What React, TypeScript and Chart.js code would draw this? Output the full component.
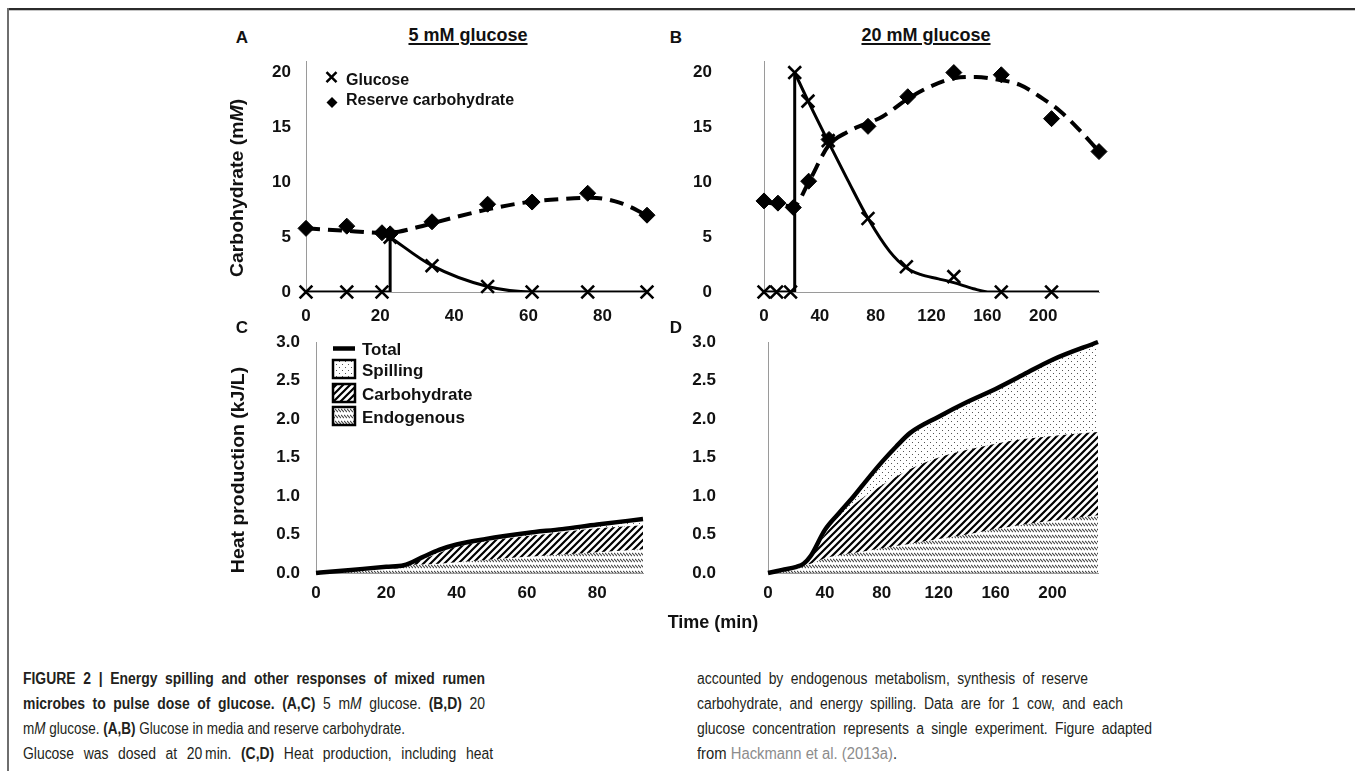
import React, { useEffect, useLayoutEffect, useRef } from 'react';
import { Chart, registerables } from 'chart.js';

Chart.register(...registerables);

const SANS = "'Liberation Sans', Arial, Helvetica, sans-serif";
const NARROW = "'Liberation Sans Narrow', 'Arial Narrow', 'Liberation Sans', Arial, sans-serif";

// ---------- Panel A (5 mM glucose) ----------
const timeA = [0, 11, 20.5, 22.7, 34, 49, 61, 76, 92];
const glucoseA = [0, 0, 0, 5, 2.4, 0.5, 0, 0, 0];
const reserveA = [5.8, 6.0, 5.4, 5.3, 6.4, 8.0, 8.2, 9.0, 7.0];
const glucStepTimeA = [0, 22.7, 22.7];
const glucStepA = [0, 0, 5];
const glucCurveTimeA = [22.7, 34, 49, 61, 92];
const glucCurveA = [5, 2.4, 0.5, 0, 0];
const reserveFitTimeA = [0, 10, 20, 25, 30, 40, 50, 60, 70, 77, 85, 92];
const reserveFitA = [5.8, 5.6, 5.4, 5.5, 5.9, 6.8, 7.6, 8.2, 8.5, 8.6, 8.1, 7.0];

// ---------- Panel B (20 mM glucose) ----------
const glucTimeB = [0, 9, 19, 22, 31.5, 46, 74.5, 102, 136, 170, 206];
const glucoseB = [0, 0, 0, 20, 17.4, 13.8, 6.7, 2.3, 1.4, 0, 0];
const reserveTimeB = [0, 10, 21, 32, 46.6, 74.5, 103, 136, 170, 206, 240];
const reserveB = [8.3, 8.1, 7.7, 10.1, 13.9, 15.1, 17.8, 20.0, 19.8, 15.8, 12.8];
const glucStepTimeB = [0, 22, 22];
const glucStepB = [0, 0, 20];
const glucCurveTimeB = [22, 32, 46, 60, 75, 90, 102, 112, 125, 136, 150, 162, 240];
const glucCurveB = [20, 17.3, 13.7, 10.2, 6.6, 3.7, 2.2, 1.6, 1.2, 0.85, 0.3, 0, 0];
const reserveFitTimeB = [0, 10, 21, 32, 46, 60, 85, 103, 117, 137, 152, 165, 183, 200, 212, 225, 240];
const reserveFitB = [8.2, 8.0, 7.8, 10.0, 13.3, 14.6, 16.0, 17.6, 18.6, 19.5, 19.6, 19.4, 18.9, 17.6, 16.5, 14.9, 12.8];

// ---------- Panel C (heat, 5 mM) ----------
const timeC = [0, 10, 20, 25, 30, 35, 40, 48, 60, 70, 80, 93];
const endoC = [0, 0.04, 0.08, 0.10, 0.11, 0.12, 0.14, 0.17, 0.21, 0.24, 0.27, 0.31];
const carbC = [0, 0.04, 0.08, 0.10, 0.17, 0.26, 0.34, 0.41, 0.48, 0.53, 0.58, 0.62];
const totalC = [0, 0.04, 0.08, 0.10, 0.20, 0.30, 0.37, 0.44, 0.52, 0.57, 0.63, 0.70];

// ---------- Panel D (heat, 20 mM) ----------
const timeD = [0, 10, 20, 25, 30, 40, 50, 60, 70, 80, 90, 100, 120, 140, 160, 180, 200, 232];
const endoD = [0, 0.04, 0.08, 0.10, 0.12, 0.19, 0.23, 0.26, 0.29, 0.32, 0.35, 0.38, 0.44, 0.50, 0.57, 0.63, 0.68, 0.75];
const carbD = [0, 0.04, 0.08, 0.12, 0.21, 0.50, 0.70, 0.88, 1.02, 1.14, 1.25, 1.35, 1.50, 1.60, 1.68, 1.74, 1.78, 1.83];
const totalD = [0, 0.04, 0.08, 0.12, 0.22, 0.56, 0.78, 0.99, 1.22, 1.44, 1.64, 1.82, 2.03, 2.22, 2.39, 2.58, 2.77, 3.0];

// ---------- ticks ----------
const yTicksCarb = [0, 5, 10, 15, 20];
const yTicksHeat = [0, 0.5, 1.0, 1.5, 2.0, 2.5, 3.0];
const xTicksLow = [0, 20, 40, 60, 80];
const xTicksHigh = [0, 40, 80, 120, 160, 200];

const pts = (xs: number[], ys: number[]) => xs.map((x, i) => ({ x, y: ys[i] }));

function makePattern(kind: string): any {
  const c = document.createElement('canvas');
  const ctx = c.getContext('2d')!;
  if (kind === 'dots') {
    c.width = 6; c.height = 6;
    ctx.fillStyle = '#555';
    ctx.fillRect(1, 1, 1, 1);
    ctx.fillRect(4, 4, 1, 1);
  } else if (kind === 'hatch') {
    c.width = 7; c.height = 7;
    ctx.strokeStyle = '#000';
    ctx.lineWidth = 2.2;
    ctx.beginPath();
    ctx.moveTo(-1, 8); ctx.lineTo(8, -1);
    ctx.moveTo(-2, 2); ctx.lineTo(2, -2);
    ctx.moveTo(5, 9); ctx.lineTo(9, 5);
    ctx.stroke();
  } else {
    c.width = 3; c.height = 6;
    ctx.strokeStyle = '#4a4a4a';
    ctx.lineWidth = 1.1;
    ctx.beginPath();
    ctx.moveTo(0, 1); ctx.lineTo(3, 4);
    ctx.stroke();
  }
  return ctx.createPattern(c, 'repeat');
}

function scales(o: any) {
  const tickFont = { family: SANS, size: 17, weight: 'bold' as const };
  return {
    x: {
      type: 'linear', min: 0, max: o.xMax,
      grid: { display: true, drawOnChartArea: false, drawTicks: false },
      border: { display: true, color: '#9a9a9a', width: 1 },
      afterBuildTicks: (s: any) => { s.ticks = o.xTicks.map((v: number) => ({ value: v })); },
      afterFit: (s: any) => { s.height = 40; s.paddingLeft = 0; s.paddingRight = 0; s.paddingTop = 0; s.paddingBottom = 0; },
      ticks: { font: tickFont, color: '#111', padding: o.xPad, maxRotation: 0, autoSkip: false },
    },
    y: {
      type: 'linear', min: 0, max: o.yMax,
      grid: { display: true, drawOnChartArea: false, drawTicks: false },
      border: { display: true, color: '#9a9a9a', width: 1 },
      afterBuildTicks: (s: any) => { s.ticks = o.yTicks.map((v: number) => ({ value: v })); },
      afterFit: (s: any) => { s.width = o.yWidth; s.paddingTop = 0; s.paddingBottom = 0; s.paddingLeft = 0; s.paddingRight = 0; },
      ticks: { font: tickFont, color: '#111', padding: o.yPad, autoSkip: false, callback: o.fmt },
    },
  };
}

function carbConfig(o: any) {
  return {
    type: 'line',
    data: {
      datasets: [
        { data: pts(o.fitT, o.fit), borderColor: '#000', borderWidth: 4, borderDash: [14, 8], pointRadius: 0, cubicInterpolationMode: 'monotone', fill: false, order: 5 },
        { data: pts(o.stepT, o.step), borderColor: '#000', borderWidth: 3, pointRadius: 0, tension: 0, fill: false, order: 4, borderJoinStyle: 'miter' },
        { data: pts(o.curveT, o.curve), borderColor: '#000', borderWidth: 3, pointRadius: 0, cubicInterpolationMode: 'monotone', fill: false, order: 3 },
        { data: pts(o.resT, o.res), showLine: false, pointStyle: 'rectRot', pointRadius: 8, backgroundColor: '#000', borderColor: '#000', borderWidth: 1, clip: false, order: 2 },
        { data: pts(o.glT, o.gl), showLine: false, pointStyle: 'crossRot', pointRadius: 9, backgroundColor: '#000', borderColor: '#000', borderWidth: 2.6, clip: false, order: 1 },
      ],
    },
    options: {
      responsive: false, animation: false, events: [],
      layout: { padding: { left: 0, right: o.padR, top: 10, bottom: 8 } },
      plugins: { legend: { display: false }, tooltip: { enabled: false } },
      scales: scales({ xMax: o.xMax, xTicks: o.xTicks, yMax: 21, yTicks: yTicksCarb, yWidth: o.yWidth, yPad: o.yPad, xPad: 14, fmt: (v: any) => String(v) }),
    },
    plugins: o.plugins || [],
  };
}

function heatConfig(o: any) {
  return {
    type: 'line',
    data: {
      datasets: [
        { data: pts(o.t, o.endo), borderWidth: 0, borderColor: 'rgba(0,0,0,0)', backgroundColor: o.pat.endo, pointRadius: 0, cubicInterpolationMode: 'monotone', fill: 'origin', order: 3 },
        { data: pts(o.t, o.carb), borderWidth: 0, borderColor: 'rgba(0,0,0,0)', backgroundColor: o.pat.hatch, pointRadius: 0, cubicInterpolationMode: 'monotone', fill: '-1', order: 2 },
        { data: pts(o.t, o.total), borderWidth: 4.5, borderColor: '#000', backgroundColor: o.pat.dots, pointRadius: 0, cubicInterpolationMode: 'monotone', fill: '-1', order: 1, clip: 4 },
      ],
    },
    options: {
      responsive: false, animation: false, events: [],
      layout: { padding: { left: 0, right: o.padR, top: 12, bottom: 7 } },
      plugins: { legend: { display: false }, tooltip: { enabled: false } },
      scales: scales({ xMax: o.xMax, xTicks: o.xTicks, yMax: 3, yTicks: yTicksHeat, yWidth: o.yWidth, yPad: o.yPad, xPad: 10, fmt: (v: any) => Number(v).toFixed(1) }),
    },
    plugins: o.plugins || [],
  };
}

const legendA = {
  id: 'legendA',
  afterDatasetsDraw(chart: any) {
    const { ctx, chartArea: ca } = chart;
    const L = ca.left, T = ca.top;
    ctx.save();
    ctx.strokeStyle = '#000'; ctx.lineWidth = 2.5;
    const cx = L + 25.5, cy = T + 15.5;
    ctx.beginPath();
    ctx.moveTo(cx - 5, cy - 5); ctx.lineTo(cx + 5, cy + 5);
    ctx.moveTo(cx + 5, cy - 5); ctx.lineTo(cx - 5, cy + 5);
    ctx.stroke();
    const dx = L + 26, dy = T + 41;
    ctx.fillStyle = '#000';
    ctx.beginPath();
    ctx.moveTo(dx, dy - 5.5); ctx.lineTo(dx + 5.5, dy); ctx.lineTo(dx, dy + 5.5); ctx.lineTo(dx - 5.5, dy);
    ctx.closePath(); ctx.fill();
    ctx.fillStyle = '#111';
    ctx.font = `bold 16px ${SANS}`;
    ctx.textBaseline = 'alphabetic';
    ctx.textAlign = 'left';
    ctx.fillText('Glucose', L + 40, T + 18 + 5.8);
    ctx.fillText('Reserve carbohydrate', L + 40, T + 38 + 5.8);
    ctx.restore();
  },
};

function makeLegendC(pat: any) {
  return {
    id: 'legendC',
    afterDatasetsDraw(chart: any) {
      const { ctx, chartArea: ca } = chart;
      const L = ca.left, T = ca.top;
      ctx.save();
      ctx.strokeStyle = '#000'; ctx.lineWidth = 4.5;
      ctx.beginPath(); ctx.moveTo(L + 17, T + 6.5); ctx.lineTo(L + 39, T + 6.5); ctx.stroke();
      const items: [string, any, number][] = [
        ['Spilling', pat.dots, 27],
        ['Carbohydrate', pat.hatch, 51],
        ['Endogenous', pat.endo, 74],
      ];
      ctx.font = `bold 17px ${SANS}`;
      ctx.textBaseline = 'alphabetic';
      ctx.textAlign = 'left';
      ctx.fillStyle = '#111';
      ctx.fillText('Total', L + 46, T + 7 + 6.1);
      for (const [label, p, dy] of items) {
        ctx.fillStyle = '#fff';
        ctx.fillRect(L + 17, T + dy - 9, 22, 18);
        ctx.fillStyle = p;
        ctx.fillRect(L + 17, T + dy - 9, 22, 18);
        ctx.strokeStyle = '#000'; ctx.lineWidth = 2.5;
        ctx.strokeRect(L + 17, T + dy - 9, 22, 18);
        ctx.fillStyle = '#111';
        ctx.fillText(label, L + 46, T + dy + 1 + 6.1);
      }
      ctx.restore();
    },
  };
}

function Label(props: { x: number; y: number; size: number; children: React.ReactNode; rotate?: boolean; sx?: number; underline?: boolean }) {
  const { x, y, size, children, rotate, sx = 1, underline } = props;
  return (
    <div
      style={{
        position: 'absolute', left: x, top: y,
        transform: `translate(-50%, -50%)${rotate ? ' rotate(-90deg)' : ''} scaleX(${sx})`,
        fontFamily: SANS, fontWeight: 'bold', fontSize: size, lineHeight: 1,
        whiteSpace: 'nowrap', color: '#111',
        textDecoration: underline ? 'underline' : 'none',
        textDecorationThickness: underline ? '2px' : undefined,
        textUnderlineOffset: underline ? '2px' : undefined,
      }}
    >
      {children}
    </div>
  );
}

const CONDENSE = 0.87;

function FitLine(props: { x: number; cy: number; w: number; justify: boolean; children: React.ReactNode }) {
  const { x, cy, w, justify, children } = props;
  const ref = useRef<HTMLSpanElement>(null);
  useLayoutEffect(() => {
    const el = ref.current;
    if (!el) return;
    el.style.transform = '';
    el.style.display = 'inline-block';
    el.style.width = '';
    el.style.textAlign = '';
    (el.style as any).textAlignLast = '';
    const nat = el.getBoundingClientRect().width;
    if (nat <= 0) return;
    if (justify && nat * CONDENSE <= w) {
      el.style.display = 'block';
      el.style.width = w / CONDENSE + 'px';
      el.style.textAlign = 'justify';
      (el.style as any).textAlignLast = 'justify';
      el.style.transform = `scaleX(${CONDENSE})`;
    } else {
      el.style.transform = `scaleX(${w / nat})`;
    }
  }, [w, justify]);
  return (
    <div style={{ position: 'absolute', left: x, top: cy - 9, height: 18, lineHeight: '18px', fontFamily: NARROW, fontSize: 16, color: '#231f20', whiteSpace: 'nowrap' }}>
      <span ref={ref} style={{ display: 'inline-block', transformOrigin: '0 0', whiteSpace: 'nowrap' }}>{children}</span>
    </div>
  );
}

export default function App() {
  const refA = useRef<HTMLCanvasElement>(null);
  const refB = useRef<HTMLCanvasElement>(null);
  const refC = useRef<HTMLCanvasElement>(null);
  const refD = useRef<HTMLCanvasElement>(null);

  useEffect(() => {
    const pat = { dots: makePattern('dots'), hatch: makePattern('hatch'), endo: makePattern('endo') };
    const charts: Chart[] = [];
    charts.push(new Chart(refA.current as any, carbConfig({
      fitT: reserveFitTimeA, fit: reserveFitA, stepT: glucStepTimeA, step: glucStepA,
      curveT: glucCurveTimeA, curve: glucCurveA, resT: timeA, res: reserveA, glT: timeA, gl: glucoseA,
      xMax: 92, xTicks: xTicksLow, yWidth: 76, yPad: 15, padR: 23, plugins: [legendA],
    }) as any));
    charts.push(new Chart(refB.current as any, carbConfig({
      fitT: reserveFitTimeB, fit: reserveFitB, stepT: glucStepTimeB, step: glucStepB,
      curveT: glucCurveTimeB, curve: glucCurveB, resT: reserveTimeB, res: reserveB, glT: glucTimeB, gl: glucoseB,
      xMax: 240, xTicks: xTicksHigh, yWidth: 84, yPad: 52, padR: 21,
    }) as any));
    charts.push(new Chart(refC.current as any, heatConfig({
      t: timeC, endo: endoC, carb: carbC, total: totalC, pat,
      xMax: 93, xTicks: xTicksLow, yWidth: 86, yPad: 16, padR: 27, plugins: [makeLegendC(pat)],
    }) as any));
    charts.push(new Chart(refD.current as any, heatConfig({
      t: timeD, endo: endoD, carb: carbD, total: totalD, pat,
      xMax: 232, xTicks: xTicksHigh, yWidth: 88, yPad: 52, padR: 22,
    }) as any));
    return () => { charts.forEach((c) => c.destroy()); };
  }, []);

  const cv = (left: number, top: number): React.CSSProperties => ({ position: 'absolute', left, top, width: 440, height: 290 });

  return (
    <div style={{ position: 'fixed', left: 0, top: 0, width: 1355, height: 771, background: '#fff', overflow: 'hidden' }}>
      <div style={{ position: 'absolute', left: 7, top: 8, width: 1348, height: 2, background: '#2b2b2b' }} />
      <div style={{ position: 'absolute', left: 9, top: 10, width: 1346, height: 1, background: '#c4c4c4' }} />
      <div style={{ position: 'absolute', left: 7, top: 8, width: 2, height: 763, background: '#6e6e6e' }} />

      <canvas ref={refA} width={440} height={290} style={cv(230, 50)} />
      <canvas ref={refB} width={440} height={290} style={cv(680, 50)} />
      <canvas ref={refC} width={440} height={290} style={cv(230, 330)} />
      <canvas ref={refD} width={440} height={290} style={cv(680, 330)} />

      <Label x={242} y={37} size={17}>A</Label>
      <Label x={676} y={37} size={17}>B</Label>
      <Label x={242} y={327} size={17}>C</Label>
      <Label x={676} y={327} size={17}>D</Label>

      <Label x={468} y={35} size={18} underline>5 mM glucose</Label>
      <Label x={926} y={35} size={18} underline>20 mM glucose</Label>

      <Label x={237} y={188} size={18} rotate sx={1.08}>Carbohydrate (m<i>M</i>)</Label>
      <Label x={238} y={470} size={18} rotate sx={1.08}>Heat production (kJ/L)</Label>
      <Label x={713} y={622} size={18}>Time (min)</Label>

      <FitLine x={23} cy={679} w={462} justify><b>FIGURE 2 | Energy spilling and other responses of mixed rumen</b></FitLine>
      <FitLine x={23} cy={704} w={462} justify><b>microbes to pulse dose of glucose. (A,C)</b> 5 m<i>M</i> glucose. <b>(B,D)</b> 20</FitLine>
      <FitLine x={23} cy={729} w={382} justify={false}>m<i>M</i> glucose. <b>(A,B)</b> Glucose in media and reserve carbohydrate.</FitLine>
      <FitLine x={23} cy={754} w={470} justify>Glucose was dosed at 20{'\u2009'}min. <b>(C,D)</b> Heat production, including heat</FitLine>

      <FitLine x={697} cy={679} w={391} justify>accounted by endogenous metabolism, synthesis of reserve</FitLine>
      <FitLine x={697} cy={704} w={426} justify>carbohydrate, and energy spilling. Data are for 1 cow, and each</FitLine>
      <FitLine x={697} cy={729} w={455} justify>glucose concentration represents a single experiment. Figure adapted</FitLine>
      <FitLine x={697} cy={754} w={200} justify={false}>from <span style={{ color: '#8c8c8c' }}>Hackmann et al. (2013a)</span>.</FitLine>
    </div>
  );
}
